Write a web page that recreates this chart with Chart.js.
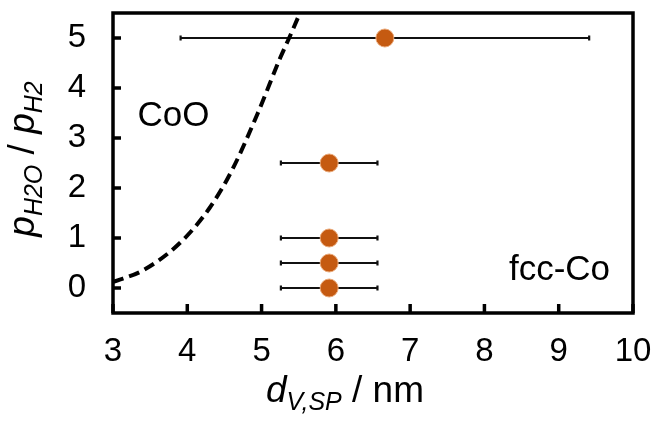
<!DOCTYPE html>
<html>
<head>
<meta charset="utf-8">
<script src="https://cdn.jsdelivr.net/npm/chart.js@4/dist/chart.umd.min.js"></script>
<style>
  html, body { margin: 0; padding: 0; background: #fff; }
  canvas { display: block; }
</style>
</head>
<body>
<canvas id="phaseChart" width="652" height="421"></canvas>
<script>
// Axis ticks
const xTicks = [3, 4, 5, 6, 7, 8, 9, 10];
const yTicks = [0, 1, 2, 3, 4, 5];

// Measured particles: size (nm), water/hydrogen ratio, size spread (+/-)
const sizeNm = [6.66, 5.91, 5.91, 5.91, 5.91];
const ratio = [5, 2.5, 1, 0.5, 0];
const sizeErr = [2.75, 0.65, 0.65, 0.65, 0.65];

// CoO / fcc-Co phase boundary
const boundaryX = [3.0, 3.4, 3.9, 4.3, 4.6, 4.95, 5.25, 5.38, 5.56];
const boundaryY = [0.12, 0.35, 0.9, 1.6, 2.35, 3.5, 4.6, 5.03, 5.65];

// Phase region labels
const regionText = ['CoO', 'fcc-Co'];
const regionX = [3.33, 8.33];
const regionY = [3.24, 0.16];

const FONT = '"Liberation Sans", Arial, sans-serif';
const dotColor = '#C55A11';

// draw a run of text pieces (plain / italic / subscript) centred on 0,0
function richText(ctx, parts, size) {
    const subSize = Math.round(size * 0.68);
    const fontFor = p => (p.italic ? 'italic ' : '') + (p.sub ? subSize : size) + 'px ' + FONT;
    let total = 0;
    parts.forEach(p => { ctx.font = fontFor(p); total += ctx.measureText(p.t).width; });
    let x = -total / 2;
    ctx.textAlign = 'left';
    ctx.textBaseline = 'alphabetic';
    parts.forEach(p => {
        ctx.font = fontFor(p);
        ctx.fillText(p.t, x, p.sub ? size * 0.22 : 0);
        x += ctx.measureText(p.t).width;
    });
}

// fixed frame: no extra room for overhanging tick labels
function fixBox(size) {
    return s => {
        if (s.isHorizontal()) s.height = size; else s.width = size;
        s.paddingTop = s.paddingBottom = s.paddingLeft = s.paddingRight = 0;
    };
}

const errorBars = {
    id: 'errorBars',
    beforeDatasetDraw(chart, args) {
        if (args.index !== 1) return;
        const { ctx, scales: { x, y } } = chart;
        ctx.save();
        ctx.strokeStyle = '#111';
        ctx.lineWidth = 2.2;
        sizeNm.forEach((v, i) => {
            const x0 = x.getPixelForValue(v - sizeErr[i]);
            const x1 = x.getPixelForValue(v + sizeErr[i]);
            const py = y.getPixelForValue(ratio[i]);
            ctx.beginPath();
            ctx.moveTo(x0, py); ctx.lineTo(x1, py);
            ctx.moveTo(x0, py - 2.5); ctx.lineTo(x0, py + 2.5);
            ctx.moveTo(x1, py - 2.5); ctx.lineTo(x1, py + 2.5);
            ctx.stroke();
        });
        ctx.restore();
    }
};

const frame = {
    id: 'frame',
    afterDraw(chart) {
        const { ctx, chartArea: a, scales: { x, y } } = chart;
        ctx.save();
        ctx.strokeStyle = '#000';
        ctx.lineWidth = 3.5;
        // inward tick marks
        ctx.beginPath();
        yTicks.forEach(v => {
            const py = y.getPixelForValue(v);
            ctx.moveTo(a.left, py); ctx.lineTo(a.left + 8, py);
        });
        xTicks.forEach(v => {
            const px = x.getPixelForValue(v);
            ctx.moveTo(px, a.bottom); ctx.lineTo(px, a.bottom - 9);
        });
        ctx.stroke();
        ctx.strokeRect(a.left, a.top, a.right - a.left, a.bottom - a.top);

        // region labels
        ctx.fillStyle = '#000';
        ctx.font = '35px ' + FONT;
        ctx.textAlign = 'left';
        ctx.textBaseline = 'alphabetic';
        regionText.forEach((t, i) => {
            ctx.fillText(t, x.getPixelForValue(regionX[i]), y.getPixelForValue(regionY[i]));
        });

        // x title
        ctx.save();
        ctx.translate(345, 402);
        richText(ctx, [
            { t: 'd', italic: true },
            { t: 'V,SP', italic: true, sub: true },
            { t: ' / nm' }
        ], 37);
        ctx.restore();

        // y title
        ctx.save();
        ctx.translate(34, 159);
        ctx.rotate(-Math.PI / 2);
        richText(ctx, [
            { t: 'p', italic: true },
            { t: 'H2O', italic: true, sub: true },
            { t: ' / ' },
            { t: 'p', italic: true },
            { t: 'H2', italic: true, sub: true }
        ], 37);
        ctx.restore();
        ctx.restore();
    }
};

new Chart(document.getElementById('phaseChart'), {
    data: {
        datasets: [{
            type: 'line',
            data: boundaryX.map((v, i) => ({ x: v, y: boundaryY[i] })),
            borderColor: '#000',
            borderWidth: 4,
            borderDash: [11, 6],
            pointRadius: 0,
            cubicInterpolationMode: 'monotone',
            fill: false
        }, {
            type: 'scatter',
            data: sizeNm.map((v, i) => ({ x: v, y: ratio[i] })),
            backgroundColor: dotColor,
            borderColor: '#E9A878',
            borderWidth: 1,
            pointRadius: 9
        }]
    },
    options: {
        responsive: false,
        animation: false,
        devicePixelRatio: 1,
        layout: { autoPadding: false, padding: { top: 13, right: 19, left: 0, bottom: 0 } },
        plugins: { legend: { display: false }, tooltip: { enabled: false } },
        scales: {
            x: {
                type: 'linear',
                min: 3,
                max: 10,
                afterBuildTicks: s => { s.ticks = xTicks.map(v => ({ value: v })); },
                afterFit: fixBox(108),
                grid: { display: false, drawTicks: false },
                border: { display: false },
                ticks: { padding: 19, color: '#000', font: { size: 33, family: FONT } }
            },
            y: {
                type: 'linear',
                min: -0.5,
                max: 5.5,
                afterBuildTicks: s => { s.ticks = yTicks.map(v => ({ value: v })); },
                afterFit: fixBox(113),
                grid: { display: false, drawTicks: false },
                border: { display: false },
                ticks: { padding: 27, color: '#000', font: { size: 33, family: FONT } }
            }
        }
    },
    plugins: [errorBars, frame]
});
</script>
</body>
</html>
